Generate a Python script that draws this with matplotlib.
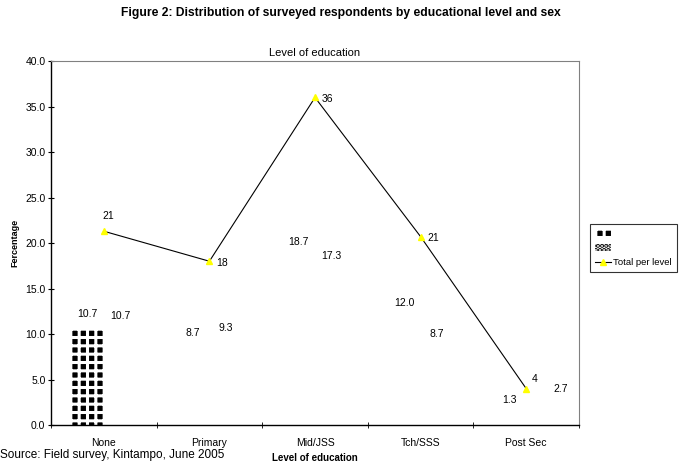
import numpy as np
import matplotlib
matplotlib.use("Agg")
import matplotlib.pyplot as plt
from matplotlib.lines import Line2D
from matplotlib.patches import Patch

plt.rcParams["font.family"] = ["Liberation Sans", "DejaVu Sans"]
plt.rcParams["hatch.linewidth"] = 2.2

# ---------------------------------------------------------------------------
# data
# ---------------------------------------------------------------------------
levels = ["None", "Primary", "Mid/JSS", "Tch/SSS", "Post Sec"]
male = [10.7, 8.7, 18.7, 12.0, 1.3]
female = [10.7, 9.3, 17.3, 8.7, 2.7]
total = [21.3, 18.0, 36.0, 20.7, 4.0]
total_labels = ["21", "18", "36", "21", "4"]
yticks = [0, 5, 10, 15, 20, 25, 30, 35, 40]

x = np.arange(len(levels))
w = 0.31

fig = plt.figure(figsize=(6.82, 4.67), dpi=100)
ax = fig.add_axes([0.0748, 0.0899, 0.7742, 0.7793])

# only the first male bar is actually painted in the original
for i, v in enumerate(male):
    if i == 0:
        ax.bar(x[i] - w / 2, v, w, facecolor="black", edgecolor="white",
               hatch="++", linewidth=0)
    else:
        ax.bar(x[i] - w / 2, v, w, fill=False, edgecolor="none")
    ax.annotate(f"{v:.1f}", (x[i] - w / 2, v), xytext=(0, 6),
                textcoords="offset points", ha="center", va="bottom", fontsize=7.5)
fem_dx = [0, 0, 0, 0, 13]   # the last label sits off to the right
for i, v in enumerate(female):
    ax.bar(x[i] + w / 2, v, w, fill=False, edgecolor="none")
    ax.annotate(f"{v:.1f}", (x[i] + w / 2, v), xytext=(fem_dx[i], 5),
                textcoords="offset points", ha="center", va="bottom", fontsize=7.5)

ax.plot(x, total, color="black", lw=0.8, marker="^", ms=5,
        markerfacecolor="yellow", markeredgecolor="yellow", zorder=3)
offsets = [(-1, 11), (5, -1), (5, -1), (5, -1), (4, 7)]
for i, (v, lab) in enumerate(zip(total, total_labels)):
    ax.annotate(lab, (x[i], v), xytext=offsets[i], textcoords="offset points",
                ha="left", va="center", fontsize=7.5)

ax.set_xlim(-0.5, len(levels) - 0.5)
ax.set_ylim(0, 40)
ax.set_yticks(yticks)
ax.set_yticklabels([f"{t:.1f}" for t in yticks], fontsize=7.5)
ax.set_xticks(x)
ax.set_xticklabels(levels, fontsize=7.5)
ax.set_xticks(np.arange(len(levels) + 1) - 0.5, minor=True)
ax.tick_params(axis="x", which="major", length=0, pad=9)
ax.tick_params(axis="x", which="minor", length=4, direction="inout")
ax.tick_params(axis="y", length=4, direction="inout", pad=2)
for s in ("top", "right"):
    ax.spines[s].set_color("#808080")
    ax.spines[s].set_linewidth(0.8)
for s in ("left", "bottom"):
    ax.spines[s].set_linewidth(1.0)

ax.set_title("Level of education", fontsize=8, pad=4)
ax.set_xlabel("Level of education", fontsize=7, fontweight="bold", labelpad=4)
ax.set_ylabel("Fercentage", fontsize=6.5, fontweight="bold", labelpad=4)

fig.suptitle("Figure 2: Distribution of surveyed respondents by educational level and sex",
             fontsize=8.7, fontweight="bold", x=0.5, y=0.985)
fig.text(0.0, 0.013, "Source: Field survey, Kintampo, June 2005", fontsize=8.5,
         ha="left", va="bottom")

handles = [Patch(facecolor="black", edgecolor="white", hatch="++", lw=0),
           Patch(facecolor="white", edgecolor="black", hatch="....", lw=0),
           Line2D([], [], color="black", lw=0.8, marker="^", ms=5,
                  markerfacecolor="yellow", markeredgecolor="yellow")]
leg = fig.legend(handles, ["", "", "Total per level"], loc="upper left",
                 bbox_to_anchor=(0.858, 0.53), fontsize=6.8, frameon=True,
                 fancybox=False, edgecolor="black", handlelength=1.7,
                 handletextpad=0.3, borderpad=0.5, labelspacing=0.6)
leg.get_frame().set_linewidth(0.8)

fig.savefig("out.png", dpi=100)
